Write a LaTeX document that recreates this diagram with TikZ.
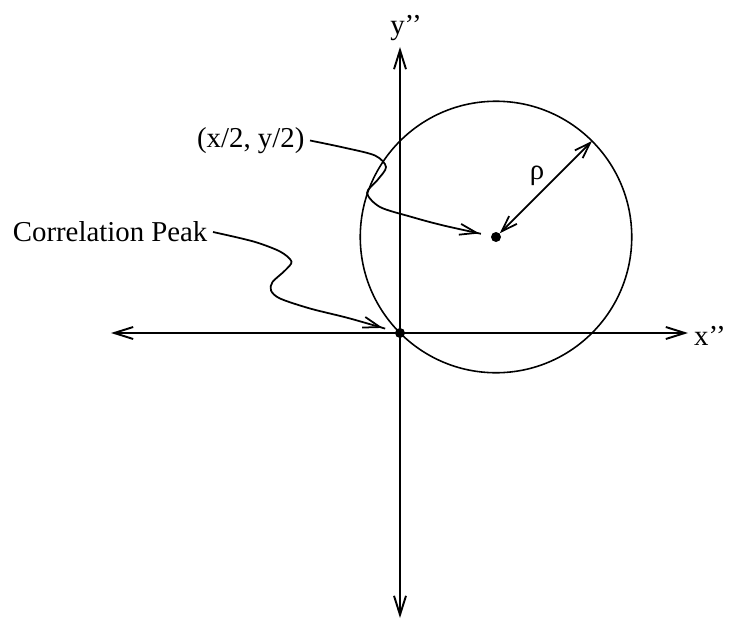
\documentclass[tikz,border=0pt]{standalone}
\usepackage{fontspec}
\setmainfont{Liberation Serif}
\usepackage{tikz}
\usetikzlibrary{arrows.meta, calc, positioning}

\tikzset{
  achse/.style={line width=1.1pt,
    {Straight Barb[length=3.8mm, width=2.4mm]}-{Straight Barb[length=3.8mm, width=2.4mm]}},
  radiuspfeil/.style={line width=1pt,
    {Straight Barb[length=3.2mm, width=2.2mm]}-{Straight Barb[length=3.2mm, width=2.2mm]}},
  zeiger/.style={line width=1pt, -{Straight Barb[length=3.4mm, width=2.2mm]}},
  punkt/.style={circle, fill, inner sep=0pt, minimum size=2mm},
  beschr/.style={font=\fontsize{16.4}{20}\selectfont}
}

\begin{document}
\begin{tikzpicture}
      \useasboundingbox (-8,-5.72) rectangle (6.62,6.66);

      % --- Achsen x'' und y'' ---
      \coordinate (xl) at (-5.78,0);
      \coordinate (xr) at (5.76,0);
      \coordinate (yu) at (0,-5.7);
      \coordinate (yo) at (0,5.72);
      \draw[achse] (xl) -- (xr);
      \draw[achse] (yu) -- (yo);
      \node[beschr, right=0pt of xr, yshift=-1.7pt] (xlab) {x’’};
      \node[beschr, above=0pt of yo, xshift=1.2mm] (ylab) {y’’};

      % --- Kreis um (x/2, y/2), geht durch den Ursprung ---
      \node[punkt] (peak) at (0,0) {};
      \node[punkt] (mitte) at (1.92,1.92) {};
      \draw[line width=0.9pt] (mitte.center) circle (2.715);
      \coordinate (rand) at ($(mitte.center)+(45:2.715)$);
      \draw[radiuspfeil] (mitte) -- (rand);
      \node[beschr] (rho) at (2.74,3.14) {ρ};

      % Beschriftungen mit Schlangenlinien
      \node[beschr, anchor=east, inner sep=3pt] (mlab) at (-1.8,3.85) {(x/2, y/2)};
      \node[beschr, anchor=east, inner sep=3pt] (plab) at (-3.74,2.02) {Correlation Peak};

      \draw[zeiger, shorten >=3.4mm] plot[smooth] coordinates
        {(mlab.east) (-1.13,3.71) (-0.5,3.55) (-0.28,3.32) (-0.45,3.06)
         (-0.66,2.8) (-0.4,2.52) (0.2,2.33) (0.87,2.15) (mitte.center)};
      \draw[zeiger, shorten >=3.6mm] plot[smooth] coordinates
        {(plab.east) (-2.93,1.83) (-2.4,1.63) (-2.17,1.43) (-2.3,1.25)
         (-2.55,1.02) (-2.58,0.85) (-2.4,0.69) (-1.8,0.49) (-1.0,0.29) (peak.center)};
\end{tikzpicture}
\end{document}
